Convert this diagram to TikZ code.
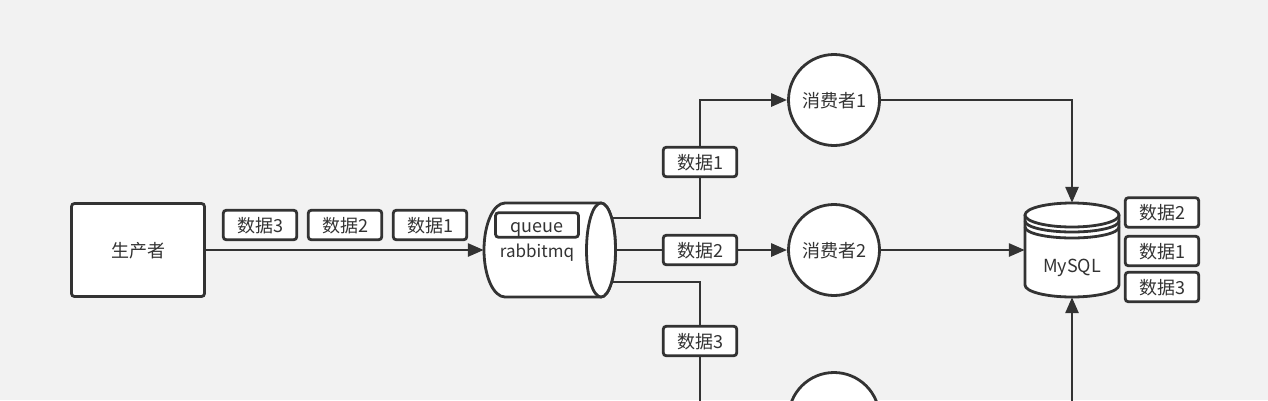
\documentclass[tikz,border=0pt]{standalone}
\usepackage{fontspec}
\setmainfont{Noto Sans CJK SC}
\usetikzlibrary{arrows.meta}

\definecolor{ink}{HTML}{333333}
\definecolor{paper}{HTML}{F2F2F2}

\tikzstyle{label} = [text=ink, font=\fontsize{18}{20}\selectfont, inner sep=0pt, text height=15pt, text depth=1pt]
\tikzstyle{block} = [label, rectangle, draw=ink, fill=white, rounded corners=3pt, line width=2.8pt]
\tikzstyle{data} = [block, minimum width=73.5pt, minimum height=29.5pt]
\tikzstyle{consumer} = [block, circle, minimum size=91pt]
\tikzstyle{holder} = [rectangle, inner sep=0pt, minimum height=94pt]
\tikzstyle{wire} = [draw=ink, line width=2.8pt]
\tikzstyle{line} = [wire, -{Triangle[length=16pt,width=13pt]}]
\tikzstyle{body} = [wire, fill=white, line join=round]

\begin{document}
\begin{tikzpicture}[x=1pt, y=-1pt]
    \useasboundingbox (0,0) rectangle (1268,400);
    \clip (0,0) rectangle (1268,400);
    \fill [paper] (0,0) rectangle (1268,400);

    \node [block, minimum width=133pt, minimum height=93pt] (Producer) at (138,250) {生产者};
    \node [data] (Send3) at (260,225) {数据3};
    \node [data] (Send2) at (345,225) {数据2};
    \node [data] (Send1) at (430,225) {数据1};

    % the two drums are drawn by hand, the holders only give the connectors their ends
    \node [holder, minimum width=136pt] (Rabbit) at (552,250) {};
    \path [body] (601,203) -- (505,203) arc [start angle=90, end angle=270, x radius=21pt, y radius=47pt]
        -- (601,297) arc [start angle=270, end angle=450, x radius=14.5pt, y radius=47pt] -- cycle;
    \path [body] (601,250) ellipse [x radius=14.5pt, y radius=47pt];
    \node [block, minimum width=83pt, minimum height=24.5pt] (Queue) at (537,225) {queue};
    \node [label, font=\fontsize{17}{20}\selectfont] (RabbitLabel) at (537,250) {rabbitmq};
    \coordinate (RabbitUp) at (613,218);
    \coordinate (RabbitMid) at (617,250);
    \coordinate (RabbitDown) at (613,282);

    \node [data] (Take1) at (700,162) {数据1};
    \node [data] (Take2) at (700,250) {数据2};
    \node [data] (Take3) at (700,341) {数据3};

    \node [consumer] (Consumer1) at (834,100) {消费者1};
    \node [consumer] (Consumer2) at (834,250) {消费者2};
    \node [consumer] (Consumer3) at (834,418) {};

    \node [holder, minimum width=94pt] (Mysql) at (1072,250) {};
    \path [body] (1025,215) -- (1025,285) arc [start angle=180, end angle=360, x radius=47pt, y radius=12pt] -- (1119,215) -- cycle;
    \path [body] (1072,215) ellipse [x radius=47pt, y radius=12pt];
    \path [wire] (1025,221) arc [start angle=180, end angle=360, x radius=47pt, y radius=11pt];
    \path [wire] (1025,227) arc [start angle=180, end angle=360, x radius=47pt, y radius=11pt];
    \node [label] (MysqlLabel) at (1072,265) {MySQL};

    \node [data] (Saved2) at (1162,212.5) {数据2};
    \node [data] (Saved1) at (1162,251) {数据1};
    \node [data] (Saved3) at (1162,287) {数据3};

    \path [line] (Producer.east) -- (Rabbit.west);
    \path [wire] (RabbitUp) -| (Take1.south);
    \path [line] (Take1.north) |- (Consumer1.west);
    \path [wire] (RabbitMid) -- (Take2.west);
    \path [line] (Take2.east) -- (Consumer2.west);
    \path [wire] (RabbitDown) -| (Take3.north);
    \path [line] (Take3.south) |- (Consumer3.west);
    \path [line] (Consumer1.east) -| (Mysql.north);
    \path [line] (Consumer2.east) -- (Mysql.west);
    \path [line] (Consumer3.east) -| (Mysql.south);
\end{tikzpicture}
\end{document}
